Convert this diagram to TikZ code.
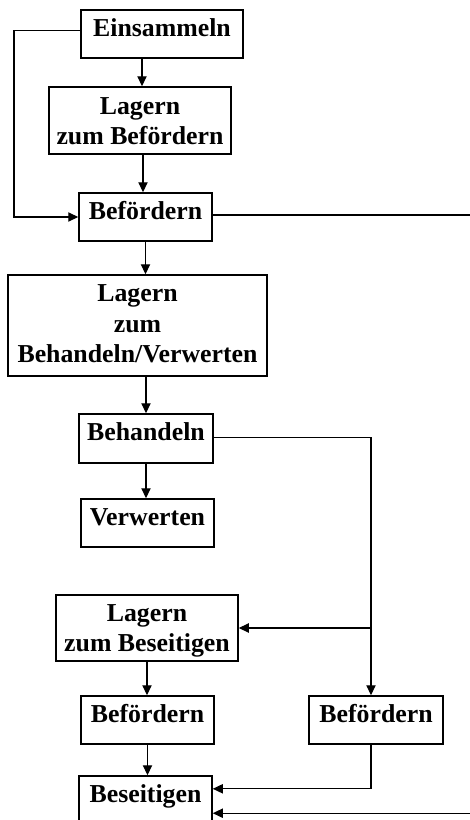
\documentclass[tikz,border=0pt]{standalone}
\usepackage{fontspec}
\setmainfont{Liberation Serif}
\usetikzlibrary{arrows.meta,calc}
\begin{document}
\begin{tikzpicture}[x=0.5pt,y=-0.5pt,
  box/.style={draw,line width=0.75pt,inner sep=0pt},
  lbl/.style={font=\bfseries\fontsize{12.9pt}{15.25pt}\selectfont,align=center,inner sep=0pt,anchor=base},
  link/.style={line width=0.6pt},
  arr/.style={link,-{Triangle[length=5pt,width=4.6pt]}}]
\useasboundingbox (0,0) rectangle (470,820);

% process boxes
\node[box,minimum width=81pt,minimum height=24pt] (E) at (162,34) {};
\node[box,minimum width=91pt,minimum height=33.5pt] (L1) at (140,120.5) {};
\node[box,minimum width=66.5pt,minimum height=24pt] (B1) at (145.5,217) {};
\node[box,minimum width=129.5pt,minimum height=50.5pt] (L2) at (137.5,325.5) {};
\node[box,minimum width=67pt,minimum height=24.5pt] (Beh) at (146,438.5) {};
\node[box,minimum width=66.5pt,minimum height=24pt] (V) at (147.5,523) {};
\node[box,minimum width=91pt,minimum height=33pt] (L3) at (147,628) {};
\node[box,minimum width=66.5pt,minimum height=24pt] (B3) at (147.5,720) {};
\node[box,minimum width=67pt,minimum height=24pt] (B2) at (376,720) {};
\node[box,minimum width=66.5pt,minimum height=24pt] (Bes) at (145.5,800) {};

% box texts (anchored at the baseline of the last line)
\node[lbl] (E-t) at ([yshift=-13.4pt]E.north) {Einsammeln};
\node[lbl] (L1-t) at ([yshift=-29.25pt]L1.north) {Lagern\\zum Befördern};
\node[lbl] (B1-t) at ([yshift=-13.6pt]B1.north) {Befördern};
\node[lbl] (L2-t) at ([yshift=-44.3pt]L2.north) {Lagern\\zum\\Behandeln/Verwerten};
\node[lbl] (Beh-t) at ([yshift=-13.8pt]Beh.north) {Behandeln};
\node[lbl] (V-t) at ([yshift=-13.6pt]V.north) {Verwerten};
\node[lbl] (L3-t) at ([yshift=-28.65pt]L3.north) {Lagern\\zum Beseitigen};
\node[lbl] (B3-t) at ([yshift=-13.6pt]B3.north) {Befördern};
\node[lbl] (B2-t) at ([yshift=-13.6pt]B2.north) {Befördern};
\node[lbl] (Bes-t) at ([yshift=-13.6pt]Bes.north) {Beseitigen};

% helper columns
\coordinate (c1) at (142,0);
\coordinate (c2) at (143,0);
\coordinate (lx) at (14,120);
\coordinate (vx) at (371,0);
\coordinate (rx) at (472,0);

% main chain
\draw[arr] (E.south -| c1) -- (L1.north -| c1);
\draw[arr] (L1.south -| c2) -- (B1.north -| c2);
\draw[arr] (B1.south) -- (L2.north -| B1);
\draw[arr] (L2.south -| Beh) -- (Beh.north);
\draw[arr] (Beh.south) -- (V.north -| Beh);
\draw[arr] (L3.south) -- (B3.north -| L3);
\draw[arr] (B3.south) -- (Bes.north -| B3);

% bypass on the left
\draw[arr] ([yshift=1.6pt]E.west) -| (lx) |- (B1.west);

% outgoing and incoming lines at the right edge
\draw[link] ([yshift=1pt]B1.east) -- ([yshift=1pt]B1.east -| rx);
\draw[arr] ([yshift=-6.6pt]Bes.east -| rx) -- ([yshift=-6.6pt]Bes.east);

% branch after treatment
\draw[arr] ([yshift=0.7pt]Beh.east) -| (B2.north -| vx);
\draw[arr] (L3.east -| vx) -- (L3.east);
\draw[arr] (B2.south -| vx) |- ([yshift=5.6pt]Bes.east);
\end{tikzpicture}
\end{document}
